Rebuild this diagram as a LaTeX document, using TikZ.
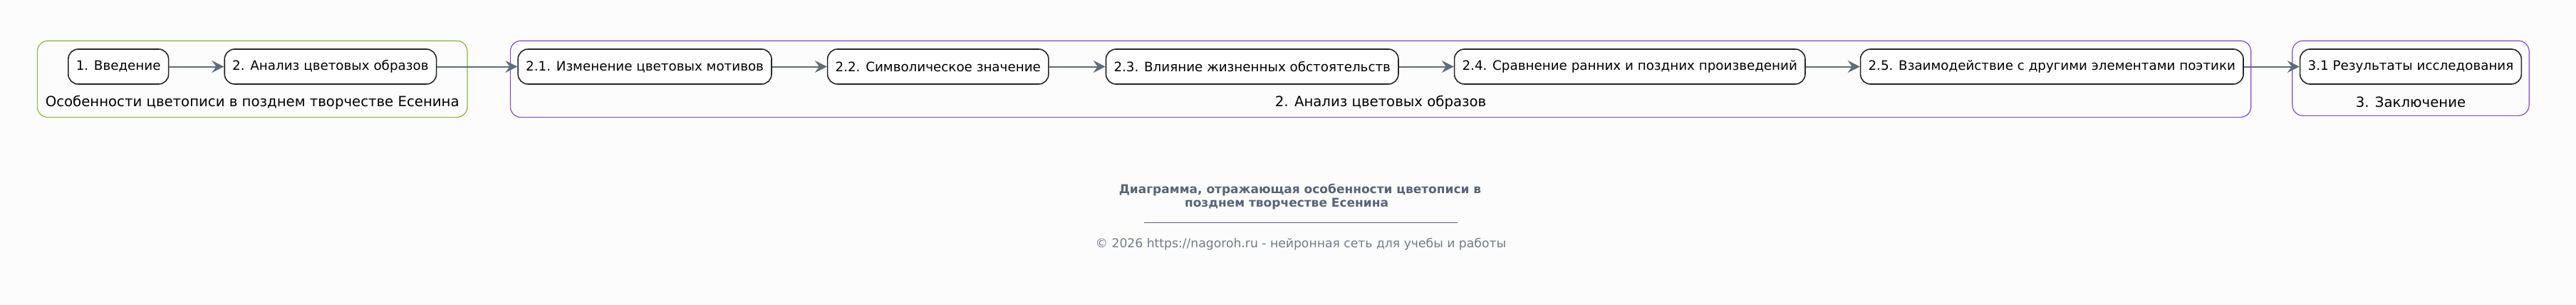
\documentclass[tikz,border=0pt]{standalone}
\usepackage{fontspec}
\setmainfont{DejaVu Sans}
\usetikzlibrary{positioning,fit,calc,arrows.meta}

\definecolor{bgcol}{RGB}{252,252,252}
\definecolor{greenframe}{RGB}{138,182,62}
\definecolor{purpleframe}{RGB}{128,74,214}
\definecolor{edgecol}{RGB}{96,108,124}
\definecolor{titlecol}{RGB}{88,100,118}

\tikzstyle{block} = [draw=black!85, fill=white, rectangle, rounded corners=7pt, line width=0.8pt, minimum height=24.5pt, inner xsep=5.5pt, font=\fontsize{9.15}{11}\selectfont]
\tikzstyle{grouplabel} = [inner sep=0pt, font=\fontsize{9.85}{11}\selectfont]
\tikzstyle{group} = [draw, rectangle, rounded corners=7.5pt, line width=0.6pt, inner sep=5.5pt]
\tikzstyle{line} = [draw, -{Stealth[length=8.5pt,width=8.5pt,inset=3pt]}, edgecol, line width=1pt]

\begin{document}
\begin{tikzpicture}
    \fill [bgcol] (0,0) rectangle (1808pt,-214pt);
    \useasboundingbox (0,0) rectangle (1808pt,-214pt);
    % Place nodes
    \node [block, anchor=west] (intro) at (47.5pt,-46.75pt) {1. Введение};
    \node [block, right=38.5pt of intro] (analysis) {2. Анализ цветовых образов};
    \node [block, right=56.5pt of analysis] (motifs) {2.1. Изменение цветовых мотивов};
    \node [block, right=38.5pt of motifs] (symbol) {2.2. Символическое значение};
    \node [block, right=39.5pt of symbol] (life) {2.3. Влияние жизненных обстоятельств};
    \node [block, right=38.5pt of life] (compare) {2.4. Сравнение ранних и поздних произведений};
    \node [block, right=38pt of compare] (poetics) {2.5. Взаимодействие с другими элементами поэтики};
    \node [block, right=39pt of poetics] (results) {3.1 Результаты исследования};
    % Group labels
    \node [grouplabel] (intro_lbl) at ($(intro.west)!0.5!(analysis.east)+(0,-25pt)$) {Особенности цветописи в позднем творчестве Есенина};
    \node [grouplabel] (analysis_lbl) at ($(motifs.west)!0.5!(poetics.east)+(0,-25pt)$) {2. Анализ цветовых образов};
    \node [grouplabel] (results_lbl) at ($(results)+(0,-25pt)$) {3. Заключение};
    % Groups
    \node [group, draw=greenframe, fit=(intro)(analysis)(intro_lbl)] (intro_grp) {};
    \node [group, draw=purpleframe, inner xsep=5pt, fit=(motifs)(poetics)(analysis_lbl)] (analysis_grp) {};
    \node [group, draw=purpleframe, inner xsep=5pt, fit=(results)(results_lbl)] (results_grp) {};
    % Draw edges
    \draw [line] (intro) -- (analysis);
    \draw [line] (analysis) -- (motifs);
    \draw [line] (motifs) -- (symbol);
    \draw [line] (symbol) -- (life);
    \draw [line] (life) -- (compare);
    \draw [line] (compare) -- (poetics);
    \draw [line] (poetics) -- (results);
    % Caption
    \node [align=center, text=titlecol, font=\fontsize{8.5}{9.5}\selectfont\bfseries] (title) at (912.5pt,-138.25pt) {Диаграмма, отражающая особенности цветописи в\\позднем творчестве Есенина\hspace*{19pt}};
    \node [inner sep=0pt] (rule) at (913pt,-156pt) {\textcolor{titlecol}{\rule{220pt}{0.5pt}}};
    \node [text=titlecol!85, font=\fontsize{8.6}{10}\selectfont] (footer) at (913pt,-171.5pt) {© 2026 https://nagoroh.ru - нейронная сеть для учебы и работы};
\end{tikzpicture}
\end{document}
